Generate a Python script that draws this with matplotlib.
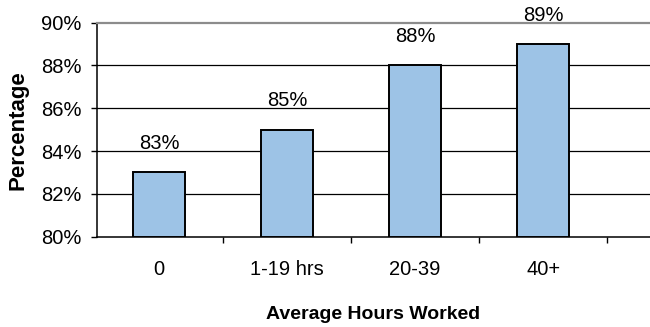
import matplotlib
matplotlib.use("Agg")
import matplotlib.pyplot as plt
from matplotlib.ticker import FixedLocator

categories = ["0", "1-19 hrs", "20-39", "40+"]
values = [83, 85, 88, 89]
yticks = [80, 82, 84, 86, 88, 90]
ytick_labels = ["80%", "82%", "84%", "86%", "88%", "90%"]

plt.rcParams['font.family'] = ['Liberation Sans', 'DejaVu Sans']

W, H = 650, 327
fig = plt.figure(figsize=(W / 100, H / 100), dpi=100)
left, right, top, bottom = 97, 650, 22.7, 236.7
ax = fig.add_axes([left / W, (H - bottom) / H, (right - left) / W, (bottom - top) / H])

x = list(range(len(categories)))
ax.bar(x, [v - 80 for v in values], bottom=80, width=0.403, color="#9DC3E6",
       edgecolor="black", linewidth=1.4, zorder=3)

for xi, v in zip(x, values):
    ax.annotate(f"{v}%", (xi, v), xytext=(0, 16.8), textcoords="offset points",
                ha="center", va="baseline", fontsize=14.5, zorder=4)

ax.set_ylim(80, 90)
ax.set_xlim(-0.485, (right - left) / 128 - 0.485)
ax.set_yticks(yticks)
ax.set_yticklabels(ytick_labels, fontsize=14.5)
ax.set_xticks(x)
ax.set_xticklabels(categories, fontsize=14.5)
ax.xaxis.set_minor_locator(FixedLocator([i + 0.5 for i in range(len(categories))]))
ax.tick_params(axis="x", which="major", length=0, pad=17)
ax.tick_params(axis="x", which="minor", length=4.5, width=1, direction="out")
ax.tick_params(axis="y", which="major", length=4, width=1, pad=7, direction="out")

for yv in yticks[1:-1]:
    ax.axhline(yv, color="black", linewidth=0.9, zorder=1)

ax.spines["right"].set_visible(False)
ax.spines["top"].set_color("#8c8c8c")
ax.spines["top"].set_linewidth(1.6)
ax.spines["left"].set_linewidth(1.1)
ax.spines["bottom"].set_linewidth(1.1)

ax.set_ylabel("Percentage", fontsize=16, fontweight="bold", labelpad=9)
ax.set_xlabel("Average Hours Worked", fontsize=14, fontweight="bold", labelpad=19)

fig.savefig("out.png", dpi=100)
